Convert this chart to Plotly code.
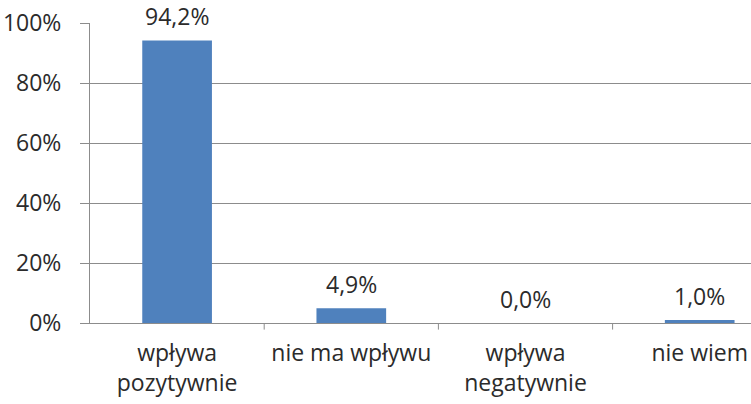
import plotly.graph_objects as go

categories = ["wpływa<br>pozytywnie", "nie ma wpływu", "wpływa<br>negatywnie", "nie wiem"]
values = [94.2, 4.9, 0.0, 1.0]
y_ticks = [0, 20, 40, 60, 80, 100]
y_tick_labels = ["0%", "20%", "40%", "60%", "80%", "100%"]

FONT = "'Open Sans', sans-serif"
TXT = "#2b2b2b"
GRID = "#8c8c8c"
FS = 23

xs = list(range(len(categories)))

fig = go.Figure(go.Bar(
    x=xs,
    y=values,
    width=0.40,
    marker=dict(color="#4F81BD", line=dict(width=0)),
    hoverinfo="skip",
))

for xi, v in zip(xs, values):
    fig.add_annotation(
        x=xi, y=v, xref="x", yref="y",
        text=f"{v:.1f}%".replace(".", ","),
        showarrow=False, yanchor="bottom", yshift=6,
        font=dict(family=FONT, size=FS, color=TXT),
    )

fig.update_layout(
    width=751, height=404,
    margin=dict(l=90, r=0, t=23, b=81, autoexpand=False),
    paper_bgcolor="white", plot_bgcolor="white",
    separators=",.",
    showlegend=False,
    font=dict(family=FONT, size=FS, color=TXT),
)
fig.update_xaxes(
    tickmode="array", tickvals=xs, ticktext=categories,
    range=[-0.5, -0.5 + 661 / 174.2],
    showline=True, linecolor=GRID, linewidth=1,
    ticks="", showgrid=False, zeroline=False, automargin=False,
    ticklabelstandoff=9,
    tickfont=dict(family=FONT, size=FS, color=TXT),
)
fig.update_yaxes(
    range=[0, 100], tickmode="array", tickvals=y_ticks, ticktext=y_tick_labels,
    showgrid=True, gridcolor=GRID, gridwidth=1,
    showline=True, linecolor=GRID, linewidth=1,
    ticks="outside", ticklen=9, tickcolor=GRID,
    zeroline=False, automargin=False,
    ticklabelstandoff=14,
    tickfont=dict(family=FONT, size=FS, color=TXT),
)
# category boundary tick marks on x axis
for b in [0.5, 1.5, 2.5]:
    fig.add_shape(type="line", xref="x", yref="paper", x0=b, x1=b, y0=0, y1=-0.022,
                  line=dict(color=GRID, width=1))

fig.write_html(
    "out.html",
    config={"displayModeBar": False},
    post_script="document.body.style.margin='0';document.body.style.overflow='hidden';",
)
